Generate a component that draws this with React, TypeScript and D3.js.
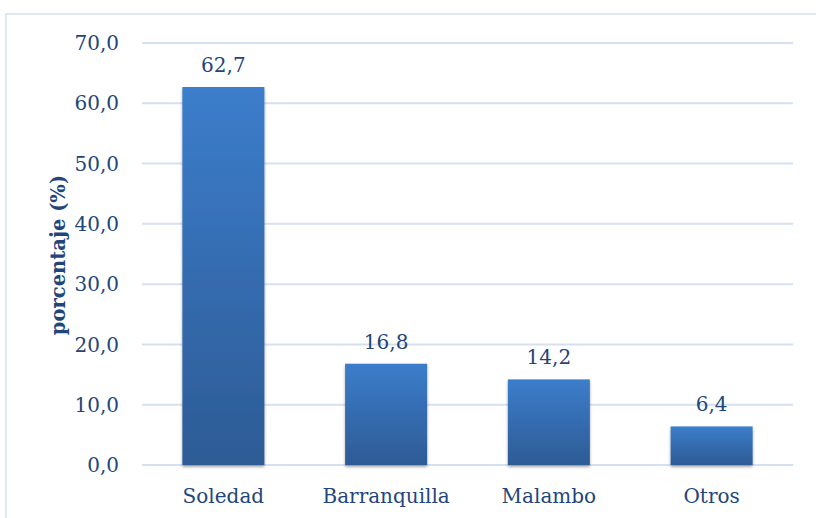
import React from "react";
import * as d3 from "d3";

const categories = ["Soledad", "Barranquilla", "Malambo", "Otros"];
const values = [62.7, 16.8, 14.2, 6.4];
const yTicks = [0, 10, 20, 30, 40, 50, 60, 70];

const W = 816;
const H = 518;
const FONT = "'DejaVu Serif', 'Liberation Serif', serif";
const TEXT = "#23467A";

export default function App() {
  const x = d3
    .scaleBand<string>()
    .domain(categories)
    .range([142, 793])
    .paddingInner(0.496)
    .paddingOuter(0.248);
  const y = d3.scaleLinear().domain([0, 70]).range([465, 43]);
  const fmt = (v: number) => v.toFixed(1).replace(".", ",");

  return (
    <svg
      width={W}
      height={H}
      style={{ position: "absolute", left: 0, top: 0, background: "#fff" }}
    >
      <defs>
        <linearGradient id="barFill" x1="0" y1="0" x2="0" y2="1">
          <stop offset="0" stopColor="#3C7DCB" />
          <stop offset="1" stopColor="#2D5B95" />
        </linearGradient>
        <filter id="barShadow" x="-20%" y="-10%" width="140%" height="130%">
          <feGaussianBlur in="SourceAlpha" stdDeviation="1.6" />
          <feOffset dx="0" dy="1.5" result="b" />
          <feComponentTransfer>
            <feFuncA type="linear" slope="0.35" />
          </feComponentTransfer>
          <feMerge>
            <feMergeNode />
            <feMergeNode in="SourceGraphic" />
          </feMerge>
        </filter>
      </defs>

      {/* chart frame */}
      <rect x={6} y={14} width={W + 20} height={H + 20} fill="none" stroke="#D6E2F0" strokeWidth={1.5} />

      {/* gridlines */}
      {yTicks.map((t) => (
        <line key={t} x1={142} x2={793} y1={y(t)} y2={y(t)} stroke="#D5E1F1" strokeWidth={2} />
      ))}

      {/* y tick labels */}
      {yTicks.map((t) => (
        <text
          key={t}
          x={119}
          y={y(t)}
          dy="0.36em"
          textAnchor="end"
          fontFamily={FONT}
          fontSize={20}
          fill={TEXT}
        >
          {fmt(t)}
        </text>
      ))}

      {/* y axis title */}
      <text
        transform={`translate(65,255) rotate(-90)`}
        textAnchor="middle"
        fontFamily={FONT}
        fontSize={19.5}
        fontWeight="bold"
        fill={TEXT}
      >
        porcentaje (%)
      </text>

      {/* bars */}
      {categories.map((c, i) => (
        <rect
          key={c}
          x={x(c)}
          y={y(values[i])}
          width={x.bandwidth()}
          height={y(0) - y(values[i])}
          fill="url(#barFill)"
          filter="url(#barShadow)"
        />
      ))}

      {/* value labels */}
      {categories.map((c, i) => (
        <text
          key={c}
          x={(x(c) ?? 0) + x.bandwidth() / 2}
          y={y(values[i]) - 15}
          textAnchor="middle"
          fontFamily={FONT}
          fontSize={20}
          fill={TEXT}
        >
          {fmt(values[i])}
        </text>
      ))}

      {/* category labels */}
      {categories.map((c) => (
        <text
          key={c}
          x={(x(c) ?? 0) + x.bandwidth() / 2}
          y={503}
          textAnchor="middle"
          fontFamily={FONT}
          fontSize={20}
          fill={TEXT}
        >
          {c}
        </text>
      ))}
    </svg>
  );
}
